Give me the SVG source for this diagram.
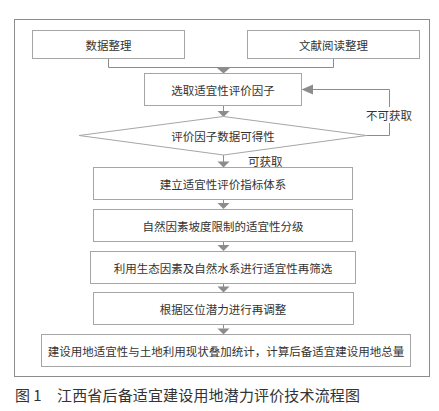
<svg xmlns="http://www.w3.org/2000/svg" width="439" height="411" viewBox="0 0 439 411">
<style>
.box{fill:#fff;stroke:#a6a6a6;stroke-width:1}
.frame{fill:#fff;stroke:#8c8c8c;stroke-width:1}
.t{font-family:"Noto Sans CJK SC","Noto Sans",sans-serif;font-size:11.5px;fill:#333;text-anchor:middle;dominant-baseline:central}
.lbl{font-family:"Noto Sans CJK SC","Noto Sans",sans-serif;font-size:11.5px;fill:#333;dominant-baseline:central}
.cap{font-family:"Noto Sans CJK SC","Noto Sans",sans-serif;font-size:15px;fill:#333}
.c{fill:none;stroke:#8c8c8c;stroke-width:1}
.ah{fill:#8c8c8c}
</style>
<rect width="439" height="411" fill="#fff"/>
<rect class="frame" x="14.5" y="19.5" width="415" height="357"/>
<g id="connectors">
<path class="c" d="M108.5 58.5V67.5H333.5V58.5"/>
<path class="c" d="M223.5 67.5V68"/>
<polygon class="ah" points="216.5,67.5 230.5,67.5 223.5,73.5"/>
<path class="c" d="M223.5 105.5V111"/>
<polygon class="ah" points="217.5,111 229.5,111 223.5,117"/>
<path class="c" d="M366.5 135.5H389.5V89.5H311"/>
<polygon class="ah" points="301.5,89.5 313,84.5 313,94.5"/>
<path class="c" d="M223.5 155V162"/>
<polygon class="ah" points="217.5,161.5 229.5,161.5 223.5,167.5"/>
<path class="c" d="M223.5 199.5V203.5"/>
<polygon class="ah" points="217.5,203 229.5,203 223.5,209"/>
<path class="c" d="M223.5 241.5V245.5"/>
<polygon class="ah" points="217.5,245 229.5,245 223.5,251"/>
<path class="c" d="M223.5 283.5V287"/>
<polygon class="ah" points="217.5,286.5 229.5,286.5 223.5,292.5"/>
<path class="c" d="M223.5 324.5V328.5"/>
<polygon class="ah" points="217.5,328.5 229.5,328.5 223.5,334.5"/>
<rect x="366" y="107" width="45" height="16" fill="#fff"/>
<text class="lbl" x="366" y="115">不可获取</text>
<text class="lbl" x="248" y="161">可获取</text>
</g>
<g id="n1"><rect class="box" x="32.5" y="30.5" width="152" height="28"/><text class="t" x="108.5" y="45">数据整理</text></g>
<g id="n2"><rect class="box" x="247.5" y="30.5" width="172" height="28"/><text class="t" x="333.5" y="45">文献阅读整理</text></g>
<g id="n3"><rect class="box" x="144.5" y="73.5" width="157" height="32"/><text class="t" x="223" y="89.5">选取适宜性评价因子</text></g>
<g id="n4"><polygon class="box" points="223.5,116.5 366.5,135.5 223.5,155 79,135.5"/><text class="t" x="223" y="136">评价因子数据可得性</text></g>
<g id="n5"><rect class="box" x="93.5" y="167.5" width="259" height="32"/><text class="t" x="223" y="183.5">建立适宜性评价指标体系</text></g>
<g id="n6"><rect class="box" x="93.5" y="209.5" width="259" height="32"/><text class="t" x="223" y="225.5">自然因素坡度限制的适宜性分级</text></g>
<g id="n7"><rect class="box" x="90.5" y="251.5" width="265" height="32"/><text class="t" x="223" y="267.5">利用生态因素及自然水系进行适宜性再筛选</text></g>
<g id="n8"><rect class="box" x="93.5" y="292.5" width="260" height="32"/><text class="t" x="223" y="308.5">根据区位潜力进行再调整</text></g>
<g id="n9"><rect class="box" x="41.5" y="334.5" width="369" height="32"/><text class="t" x="226" y="350.5">建设用地适宜性与土地利用现状叠加统计，计算后备适宜建设用地总量</text></g>
<text class="cap" x="15" y="401">图 1</text>
<text class="cap" x="57" y="401" textLength="303">江西省后备适宜建设用地潜力评价技术流程图</text>
</svg>
